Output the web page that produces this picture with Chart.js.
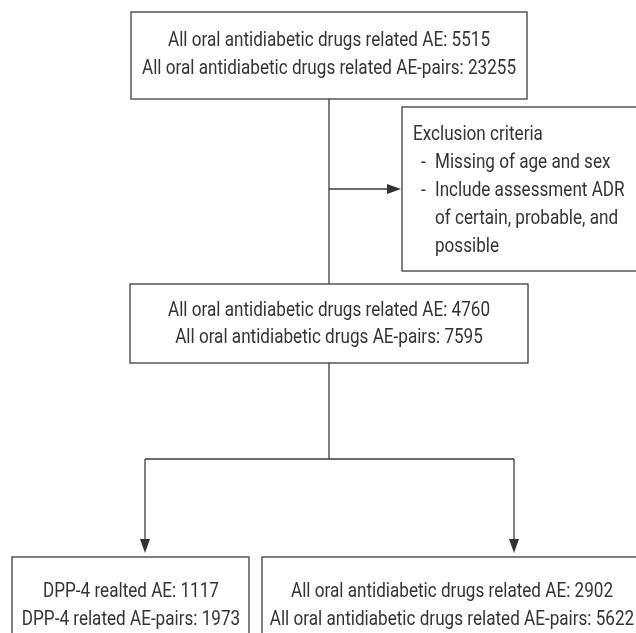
<!DOCTYPE html>
<html>
<head>
<meta charset="utf-8">
<script src="https://cdn.jsdelivr.net/npm/chart.js@4"></script>
<style>
html,body{margin:0;padding:0;background:#fff;}
#wrap{width:636px;height:633px;}
</style>
</head>
<body>
<div id="wrap"><canvas id="c" width="636" height="633"></canvas></div>
<script>
// ---- data ----
const aeLabels   = ["All oral antidiabetic drugs related AE", "All oral antidiabetic drugs related AE", "DPP-4 realted AE", "All oral antidiabetic drugs related AE"];
const aeCounts   = [5515, 4760, 1117, 2902];
const pairLabels = ["All oral antidiabetic drugs related AE-pairs", "All oral antidiabetic drugs AE-pairs", "DPP-4 related AE-pairs", "All oral antidiabetic drugs related AE-pairs"];
const pairCounts = [23255, 7595, 1973, 5622];
const exclusionTitle = "Exclusion criteria";
const exclusionItems = [["Missing of age and sex"], ["Include assessment ADR", "of certain, probable, and", "possible"]];

// ---- layout (canvas units) ----
const boxes = [
  {x0:131, x1:527, y0:12,  y1:99,  cx:329, ly:[41, 69]},
  {x0:130, x1:528, y0:284, y1:363, cx:329, ly:[311, 338]},
  {x0:12,  x1:249, y0:557, y1:645, cx:131, ly:[592, 620]},
  {x0:262, x1:645, y0:557, y1:645, cx:452, ly:[592, 620]}
];
const exBox = {x0:402, x1:645, y0:107, y1:271, tx:413, hx:421, cx:435, y:135, dy:28};

const FONT = '20px Roboto, "DejaVu Sans Condensed", sans-serif';
const CALIB_WIDTH = 322; // width of the first line in the reference
const INK = '#333333';

const flowPlugin = {
  id: 'flow',
  afterDraw(chart) {
    const ctx = chart.ctx;
    const xs = chart.scales.x, ys = chart.scales.y;
    const X = v => xs.getPixelForValue(v);
    const Y = v => ys.getPixelForValue(v);
    ctx.save();
    ctx.strokeStyle = '#3c3c3c';
    ctx.lineWidth = 1.3;
    ctx.fillStyle = INK;
    const rect = b => { ctx.strokeRect(X(b.x0), Y(b.y0), X(b.x1) - X(b.x0), Y(b.y1) - Y(b.y0)); };
    const line = (x0, y0, x1, y1) => { ctx.beginPath(); ctx.moveTo(X(x0), Y(y0)); ctx.lineTo(X(x1), Y(y1)); ctx.stroke(); };
    const arrowRight = (x, y) => { ctx.beginPath(); ctx.moveTo(X(x), Y(y)); ctx.lineTo(X(x - 14), Y(y - 5)); ctx.lineTo(X(x - 14), Y(y + 5)); ctx.closePath(); ctx.fill(); };
    const arrowDown = (x, y) => { ctx.beginPath(); ctx.moveTo(X(x), Y(y)); ctx.lineTo(X(x - 5), Y(y - 14)); ctx.lineTo(X(x + 5), Y(y - 14)); ctx.closePath(); ctx.fill(); };

    boxes.forEach(rect);
    rect(exBox);

    line(329, boxes[0].y1, 329, boxes[1].y0);
    line(329, 189, exBox.x0 - 12, 189);
    arrowRight(exBox.x0 - 1, 189);
    line(329, boxes[1].y1, 329, 459);
    line(145, 459, 514, 459);
    line(145, 459, 145, boxes[2].y0 - 12);
    line(514, 459, 514, boxes[3].y0 - 12);
    arrowDown(145, boxes[2].y0 - 4);
    arrowDown(514, boxes[3].y0 - 4);

    ctx.font = FONT;
    ctx.textBaseline = 'middle';
    const sx = CALIB_WIDTH / ctx.measureText(aeLabels[0] + ': ' + aeCounts[0]).width;
    const txt = (s, x, y, align) => {
      ctx.save();
      ctx.textAlign = align;
      ctx.translate(x, y);
      ctx.scale(sx, 1);
      ctx.fillText(s, 0, 0);
      ctx.restore();
    };
    boxes.forEach((b, i) => {
      txt(aeLabels[i] + ': ' + aeCounts[i], X(b.cx), Y(b.ly[0]), 'center');
      txt(pairLabels[i] + ': ' + pairCounts[i], X(b.cx), Y(b.ly[1]), 'center');
    });
    let yy = exBox.y;
    txt(exclusionTitle, X(exBox.tx), Y(yy), 'left');
    exclusionItems.forEach(item => {
      item.forEach((t, k) => {
        yy += exBox.dy;
        if (k === 0) { txt('-', X(exBox.hx), Y(yy), 'left'); }
        txt(t, X(exBox.cx), Y(yy), 'left');
      });
    });
    ctx.restore();
  }
};

new Chart(document.getElementById('c'), {
  type: 'scatter',
  data: { datasets: [{ data: [], pointRadius: 0 }] },
  options: {
    responsive: false,
    animation: false,
    layout: { padding: 0 },
    plugins: { legend: { display: false }, tooltip: { enabled: false } },
    scales: {
      x: { type: 'linear', min: 0, max: 636, display: false },
      y: { type: 'linear', min: 0, max: 633, reverse: true, display: false }
    }
  },
  plugins: [flowPlugin]
});
</script>
</body>
</html>
